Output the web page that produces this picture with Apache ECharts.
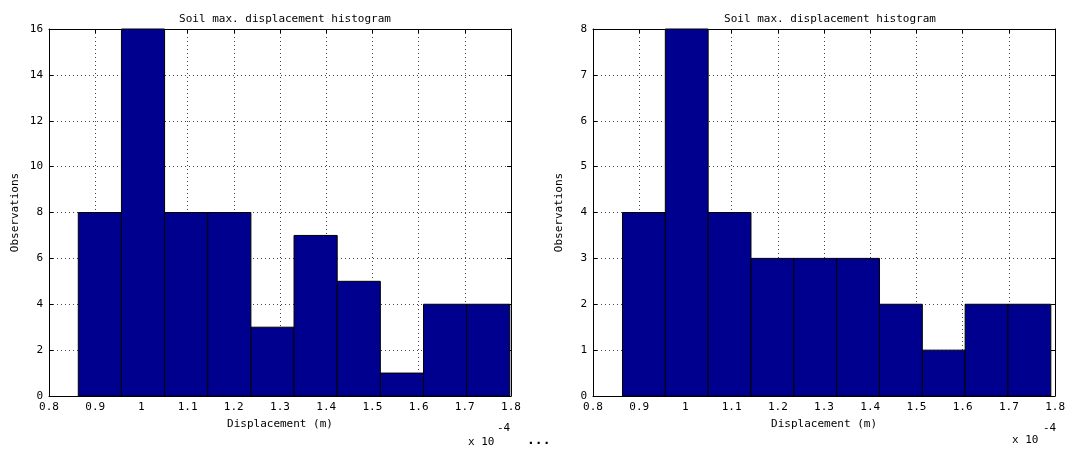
<!DOCTYPE html>
<html>
<head>
<meta charset="utf-8">
<title>Soil max. displacement histogram</title>
<script src="https://cdn.jsdelivr.net/npm/echarts@6/dist/echarts.min.js"></script>
<style>
  html, body { margin: 0; padding: 0; background: #ffffff; }
  #chart { width: 1068px; height: 449px; }
</style>
</head>
<body>
<div id="chart"></div>
<script>
// Bin edges (x 1e-4 m) and counts for the two histograms
const leftEdges  = [0.8634, 0.9568, 1.0502, 1.1436, 1.2370, 1.3304, 1.4238, 1.5172, 1.6106, 1.7040, 1.7974];
const leftCounts = [8, 16, 8, 8, 3, 7, 5, 1, 4, 4];
const rightEdges  = [0.8638, 0.9565, 1.0492, 1.1419, 1.2346, 1.3273, 1.4200, 1.5127, 1.6054, 1.6981, 1.7908];
const rightCounts = [4, 8, 4, 3, 3, 3, 2, 1, 2, 2];
const xTicks = [0.8, 0.9, 1.0, 1.1, 1.2, 1.3, 1.4, 1.5, 1.6, 1.7, 1.8];
const titleText = 'Soil max. displacement histogram';
const xName = 'Displacement (m)';
const yName = 'Observations';

const FONT = 'DejaVu Sans Mono';
const FILL = '#00008F';

function binRows(edges, counts) {
  return counts.map((c, i) => [edges[i], edges[i + 1], c]);
}

function renderBin(params, api) {
  const p0 = api.coord([api.value(0), api.value(2)]);
  const p1 = api.coord([api.value(1), 0]);
  return {
    type: 'rect',
    shape: { x: p0[0], y: p0[1], width: p1[0] - p0[0], height: p1[1] - p0[1] },
    style: { fill: FILL, stroke: '#000', lineWidth: 1 }
  };
}

const gridLine = { show: true, lineStyle: { color: '#444', width: 1, type: [1, 3] } };
const tickStyle = { show: true, inside: true, length: 4, lineStyle: { color: '#000' } };
const lineStyle = { show: true, onZero: false, lineStyle: { color: '#000', width: 1 } };
const labelStyle = { color: '#000', fontFamily: FONT, fontSize: 11 };

function fmtX(v) { return String(Number(v.toFixed(1))); }

function xPair(gi) {
  return [
    { type: 'value', gridIndex: gi, position: 'bottom', min: 0.8, max: 1.8, interval: 0.1,
      axisLine: lineStyle, axisTick: tickStyle, splitLine: gridLine,
      axisLabel: Object.assign({ formatter: fmtX, margin: 6 }, labelStyle),
      name: xName, nameLocation: 'middle', nameGap: 23,
      nameTextStyle: { color: '#000', fontFamily: FONT, fontSize: 11 } },
    { type: 'value', gridIndex: gi, position: 'top', min: 0.8, max: 1.8, interval: 0.1,
      axisLine: lineStyle, axisTick: tickStyle, splitLine: { show: false }, axisLabel: { show: false } }
  ];
}

function yPair(gi, max, step) {
  return [
    { type: 'value', gridIndex: gi, position: 'left', min: 0, max: max, interval: step,
      axisLine: lineStyle, axisTick: tickStyle, splitLine: gridLine,
      axisLabel: Object.assign({ margin: 6 }, labelStyle),
      name: yName, nameLocation: 'middle', nameGap: 28,
      nameTextStyle: { color: '#000', fontFamily: FONT, fontSize: 11 } },
    { type: 'value', gridIndex: gi, position: 'right', min: 0, max: max, interval: step,
      axisLine: lineStyle, axisTick: tickStyle, splitLine: { show: false }, axisLabel: { show: false } }
  ];
}

const chart = echarts.init(document.getElementById('chart'), null, { renderer: 'canvas' });

chart.setOption({
  animation: false,
  backgroundColor: '#ffffff',
  title: [
    { text: titleText, left: 280, top: 9, textAlign: 'center',
      textStyle: { fontFamily: FONT, fontSize: 11, fontWeight: 'normal', color: '#000' } },
    { text: titleText, left: 825, top: 9, textAlign: 'center',
      textStyle: { fontFamily: FONT, fontSize: 11, fontWeight: 'normal', color: '#000' } }
  ],
  grid: [
    { left: 49, right: 557, top: 29, bottom: 53 },
    { left: 593, right: 11, top: 29, bottom: 53 }
  ],
  xAxis: [].concat(xPair(0), xPair(1)),
  yAxis: [].concat(yPair(0, 16, 2), yPair(1, 8, 1)),
  series: [
    { type: 'custom', xAxisIndex: 0, yAxisIndex: 0, renderItem: renderBin,
      encode: { x: [0, 1], y: 2 }, data: binRows(leftEdges, leftCounts) },
    { type: 'custom', xAxisIndex: 2, yAxisIndex: 2, renderItem: renderBin,
      encode: { x: [0, 1], y: 2 }, data: binRows(rightEdges, rightCounts) }
  ],
  graphic: [
    { type: 'text', left: 468, top: 437, style: { text: 'x 10', font: '11px "' + FONT + '"', fill: '#000' } },
    { type: 'text', left: 497, top: 423, style: { text: '-4', font: '11px "' + FONT + '"', fill: '#000' } },
    { type: 'text', left: 1012, top: 435, style: { text: 'x 10', font: '11px "' + FONT + '"', fill: '#000' } },
    { type: 'text', left: 1043, top: 423, style: { text: '-4', font: '11px "' + FONT + '"', fill: '#000' } },
    { type: 'text', left: 527, top: 434, style: { text: '...', font: 'bold 13px "' + FONT + '"', fill: '#000' } }
  ]
});
</script>
</body>
</html>
